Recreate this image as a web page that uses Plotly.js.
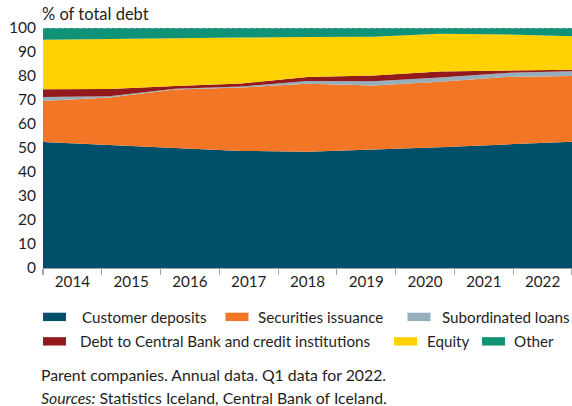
<!DOCTYPE html>
<html>
<head>
<meta charset="utf-8">
<script src="https://cdn.plot.ly/plotly-3.0.1.min.js"></script>
<style>html,body{margin:0;padding:0;background:#fff;}#chart{width:572px;height:406px;}</style>
</head>
<body>
<div id="chart"></div>
<script>
// ---- data ----
const years = ["2014","2015","2016","2017","2018","2019","2020","2021","2022"];
const customerDeposits   = [52.5, 51.3, 50.2, 48.8, 48.4, 49.3, 50.3, 51.5, 52.6];
const securitiesIssuance = [17.1, 19.7, 24.2, 26.4, 28.4, 26.7, 27.3, 28.1, 27.4];
const subordinatedLoans  = [1.6, 0.6, 0.3, 0.4, 1.1, 1.8, 1.8, 1.7, 2.0];
const debtCentralBank    = [3.3, 3.0, 1.1, 1.3, 1.7, 2.4, 2.5, 1.0, 0.6];
const equity             = [20.6, 20.9, 19.9, 19.1, 16.6, 16.2, 15.7, 15.0, 14.0];
const other              = [4.9, 4.5, 4.3, 4.0, 3.8, 3.6, 2.4, 2.7, 3.4];
const yTicks = [0,10,20,30,40,50,60,70,80,90,100];

const seriesNames = ["Customer deposits","Securities issuance","Subordinated loans",
  "Debt to Central Bank and credit institutions","Equity","Other"];
const seriesData = [customerDeposits, securitiesIssuance, subordinatedLoans, debtCentralBank, equity, other];
const colors = ["#004F6B","#F37526","#95AFBD","#921A1D","#FFD100","#0F9275"];

const FONT = "Lato, sans-serif";
const TXT = "#1e1e1e";
const W = 572, H = 406, L = 43, R = 0, T = 27.5, B = 138;
const pw = W - L - R, ph = H - T - B;
const px2x = p => (p - L) / pw;
const px2y = p => (H - B - p) / ph;

const n = years.length;
const xs = years.map((_, i) => i * n / (n - 1)); // points span full width

const traces = seriesData.map((vals, k) => ({
  x: xs, y: vals, type: "scatter", mode: "lines",
  stackgroup: "one", name: seriesNames[k],
  line: {width: 0, color: colors[k]}, fillcolor: colors[k],
  hoverinfo: "skip", showlegend: false
}));
// dummy trace on xaxis2 for tick marks
traces.push({x: [0, n], y: [0, 0], xaxis: "x2", yaxis: "y", mode: "lines",
  line: {width: 0}, showlegend: false, hoverinfo: "skip"});

// manual legend
const legendPos = [
  {sx: 43, tx: 80, py: 317}, {sx: 225.5, tx: 256, py: 317}, {sx: 407.5, tx: 440, py: 317},
  {sx: 43, tx: 78, py: 341.5}, {sx: 394, tx: 425, py: 341.5}, {sx: 482, tx: 512, py: 341.5}
];
const shapes = [{type: "line", xref: "paper", yref: "y", x0: 0, x1: 1, y0: 100, y1: 100,
  line: {color: "#c4c8c9", width: 1.2, dash: "3px,3px"}}];
const annotations = [];
legendPos.forEach((p, k) => {
  shapes.push({type: "rect", xref: "paper", yref: "paper",
    x0: px2x(p.sx), x1: px2x(p.sx + 23), y0: px2y(p.py + 4.2), y1: px2y(p.py - 4.2),
    fillcolor: colors[k], line: {width: 0}});
  annotations.push({xref: "paper", yref: "paper", x: px2x(p.tx), y: px2y(p.py),
    xanchor: "left", yanchor: "middle", showarrow: false, text: seriesNames[k],
    font: {family: FONT, size: 15.2, color: TXT}});
});
annotations.push({xref: "paper", yref: "paper", x: px2x(39), y: px2y(375),
  xanchor: "left", yanchor: "middle", showarrow: false,
  text: "Parent companies. Annual data. Q1 data for 2022.",
  font: {family: FONT, size: 15.8, color: TXT}});
annotations.push({xref: "paper", yref: "paper", x: px2x(39), y: px2y(398),
  xanchor: "left", yanchor: "middle", showarrow: false,
  text: "<i>Sources:</i> Statistics Iceland, Central Bank of Iceland.",
  font: {family: FONT, size: 15.8, color: TXT}});
annotations.push({xref: "paper", yref: "paper", x: px2x(40), y: px2y(13.5),
  xanchor: "left", yanchor: "middle", showarrow: false,
  text: "% of total debt", font: {family: FONT, size: 16.5, color: TXT}});

const layout = {
  width: W, height: H, margin: {l: L, r: R, t: T, b: B},
  paper_bgcolor: "#fff", plot_bgcolor: "#fff", showlegend: false,
  xaxis: {range: [0, n], tickvals: years.map((_, i) => i + 0.5), ticktext: years,
    ticks: "", showgrid: false, zeroline: false, showline: true,
    linecolor: "#a0a4a6", linewidth: 1, fixedrange: true,
    tickfont: {family: FONT, size: 15.2, color: TXT}},
  xaxis2: {range: [0, n], overlaying: "x", anchor: "y", side: "bottom",
    tickvals: years.map((_, i) => i).concat([n]), showticklabels: false,
    ticks: "outside", ticklen: 6, tickcolor: "#a0a4a6", tickwidth: 1.2,
    showgrid: false, zeroline: false, showline: false},
  yaxis: {range: [0, 100], tickvals: yTicks, ticks: "", showgrid: false,
    zeroline: false, showline: false, fixedrange: true, ticklabelstandoff: 6,
    tickfont: {family: FONT, size: 15.5, color: TXT}},
  shapes: shapes, annotations: annotations
};
Plotly.newPlot("chart", traces, layout, {displayModeBar: false, staticPlot: true});
</script>
</body>
</html>
